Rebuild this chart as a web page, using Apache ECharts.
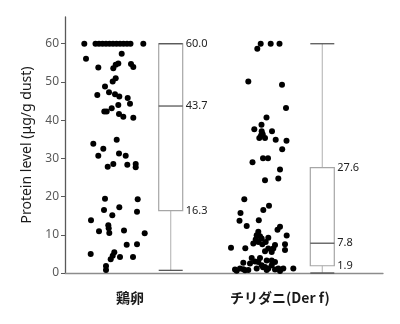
<!DOCTYPE html>
<html><head><meta charset="utf-8">
<script src="https://cdn.jsdelivr.net/npm/echarts@6/dist/echarts.min.js"></script>
<style>html,body{margin:0;padding:0;background:#fff}#c{width:400px;height:324px}</style>
</head><body><div id="c"></div>
<script>
// ---- data ----
const categories = ['鶏卵', 'チリダニ(Der f)'];
const yAxisName = 'Protein level (μg/g dust)';
const yTickStep = 10;

// 鶏卵 : protein values and horizontal jitter (axis units around group centre)
const eggValues = [
  60,60,60,60,60,60,60,60,60,60,60,60,60,
  57.4,56.1,53.8,53.6,54.5,54.8,54.7,53.9,51.0,50.1,48.8,46.6,47.3,46.8,46.2,45.8,44.0,44.3,43.1,42.3,42.3,41.6,40.9,40.6,
  33.8,32.5,34.9,30.7,31.3,30.7,27.8,28.5,28.3,28.5,27.7,
  19.4,19.3,16.5,15.1,17.2,16.0,13.8,12.5,11.7,10.5,10.9,11.1,10.4,7.4,7.5,5.0,5.4,4.5,3.6,4.2,4.2,1.8,0.8
];
const eggJitter = [
  -30.7,-19.5,-16,-12.5,-9,-5.5,-2,1.5,5,8.5,12,15.5,28.3,
  6.7,-29,-16.7,-1.7,0.7,3.3,16,18.3,0.7,-2.3,-10,-17.7,-6,0,4.3,12.7,3.3,15,-3.3,-10.7,-8.3,4,8.3,18.3,
  -21.7,-11.7,1.7,-16.7,4,10.7,-7.3,-1.7,12.3,20.7,20.7,
  -10,22.7,-11,-2.7,4.3,22,-24,-6.7,-6.3,-5.7,-16,9,29.7,11.7,22,-24.3,-0.7,-2.3,-4.3,5,18,-9,-9
];

// チリダニ(Der f)
const miteValues = [
  60,60,60,58.7,50.1,49.3,43.2,40.7,38.8,37.6,37.1,37.1,36.3,36.0,35.3,35.3,34.9,34.6,32.4,30.0,
  30.0,29.0,27.1,24.3,24.7,19.3,17.6,16.5,15.7,
  13.7,13.8,12.3,12.1,11.3,10.8,9.9,9.6,9.8,9.2,9.0,8.8,8.1,8.1,7.7,7.5,7.5,7.3,6.6,6.5,
  6.4,6.4,6.0,5.7,5.5,3.9,3.9,3.3,3.3,2.9,2.9,2.7,2.5,2.0,2.0,1.6,1.2,1.2,1.2,1.2,
  1.2,1.2,0.9,0.9,0.7,0.8,0.5,0.6,1.0,1.5,3.0,0.8
];
const miteJitter = [
  -2.3,7.7,16.5,-5.7,-14.7,19,23,3.5,-1.5,-8.7,9,-1.3,-0.3,-2,-3.7,2,12.7,23.5,19.2,0,
  5,-10.5,17,2,15.3,-18.7,6,0.3,-22.5,
  -23.5,-4.2,-16.3,17,14.5,-4.7,-6.3,-3,23.7,5.3,-1.3,-7.3,-4.7,2.7,-9.7,-0.7,22,12,-32,-17.7,
  10.3,5.3,22,2,8.7,-3,-11.3,3.7,8.7,-4.7,12,-19.7,-13,-1.3,8.7,2,-23,-6.3,5.3,15.3,
  20.3,30.3,-28,12,-18,-14.7,17,-26.3,-19.7,0,-8,3.7
];

// box statistics: [min, Q1, median, Q3, max]
const eggBox  = [0.7, 16.3, 43.7, 60.0, 60.0];
const miteBox = [0.0, 1.9, 7.8, 27.6, 60.0];

// ---- layout (horizontal axis units) ----
const X_MAX = 318;
const scatterCentre = [50, 198];
const boxCentre = [105.7, 257.3];
const labelCentre = [65, 215];

const groups = [
  { values: eggValues, jitter: eggJitter, box: eggBox },
  { values: miteValues, jitter: miteJitter, box: miteBox }
];

const scatterData = [];
groups.forEach((g, gi) => {
  g.values.forEach((v, i) => scatterData.push([scatterCentre[gi] + g.jitter[i], v]));
});
const boxData = groups.map((g, gi) => [boxCentre[gi]].concat(g.box));
const catData = categories.map((c, i) => [labelCentre[i], 0, i]);

const FONT = 'Noto Sans, sans-serif';

const chart = echarts.init(document.getElementById('c'), null, { renderer: 'canvas' });
chart.setOption({
  animation: false,
  backgroundColor: '#fff',
  grid: { left: 65, right: 17, top: 17, bottom: 51, containLabel: false },
  xAxis: {
    type: 'value', min: 0, max: X_MAX,
    axisLine: { show: true, lineStyle: { color: '#8c8c8c', width: 1.3 } },
    axisTick: { show: false }, axisLabel: { show: false }, splitLine: { show: false }
  },
  yAxis: {
    type: 'value', min: 0, max: 67, interval: yTickStep,
    name: yAxisName, nameLocation: 'middle', nameGap: 31,
    nameTextStyle: { fontSize: 14, color: '#1a1a1a', fontFamily: FONT },
    axisLine: { show: true, lineStyle: { color: '#595959', width: 1.3 } },
    axisTick: { show: true, length: 4, lineStyle: { color: '#595959' } },
    axisLabel: { fontSize: 12, color: '#595959', fontFamily: FONT, margin: 6, showMaxLabel: false,
      formatter: v => (v % yTickStep === 0 ? String(v) : '') },
    splitLine: { show: false }
  },
  series: [
    {
      type: 'scatter', data: scatterData, symbolSize: 6,
      itemStyle: { color: '#000', opacity: 1 }, silent: true, z: 3
    },
    {
      type: 'custom', data: boxData, silent: true, z: 2,
      renderItem: function (params, api) {
        const x = api.value(0);
        const mn = api.value(1), q1 = api.value(2), md = api.value(3), q3 = api.value(4), mx = api.value(5);
        const cx = api.coord([x, md])[0];
        const y = v => api.coord([x, v])[1];
        const hw = 12;
        const dark = '#4a4a4a', light = '#bdbdbd', boxC = '#a6a6a6';
        const line = (x1, y1, x2, y2, c) => ({ type: 'line', shape: { x1, y1, x2, y2 }, style: { stroke: c, lineWidth: 1.2 } });
        const label = (v) => ({ type: 'text', style: { x: cx + hw + 3, y: y(v), text: v.toFixed(1), fill: '#222',
          font: '11px ' + FONT, textVerticalAlign: 'middle', verticalAlign: 'middle' } });
        return { type: 'group', children: [
          line(cx, y(mx), cx, y(q3), light),
          line(cx, y(q1), cx, y(mn), light),
          { type: 'rect', shape: { x: cx - hw, y: y(q3), width: 2 * hw, height: y(q1) - y(q3) },
            style: { fill: 'none', stroke: boxC, lineWidth: 1.2 } },
          line(cx - hw, y(md), cx + hw, y(md), dark),
          line(cx - hw, y(mx), cx + hw, y(mx), dark),
          line(cx - hw, y(mn), cx + hw, y(mn), dark),
          label(q3), label(md), label(q1)
        ]};
      }
    },
    {
      type: 'custom', data: catData, silent: true,
      renderItem: function (params, api) {
        const p = api.coord([api.value(0), api.value(1)]);
        return { type: 'text', style: { x: p[0], y: p[1] + 25, text: categories[api.value(2)],
          fill: '#1a1a1a', font: 'bold 14px "Noto Sans CJK JP", sans-serif', align: 'center', textAlign: 'center',
          verticalAlign: 'middle', textVerticalAlign: 'middle' } };
      }
    }
  ]
});
</script></body></html>
